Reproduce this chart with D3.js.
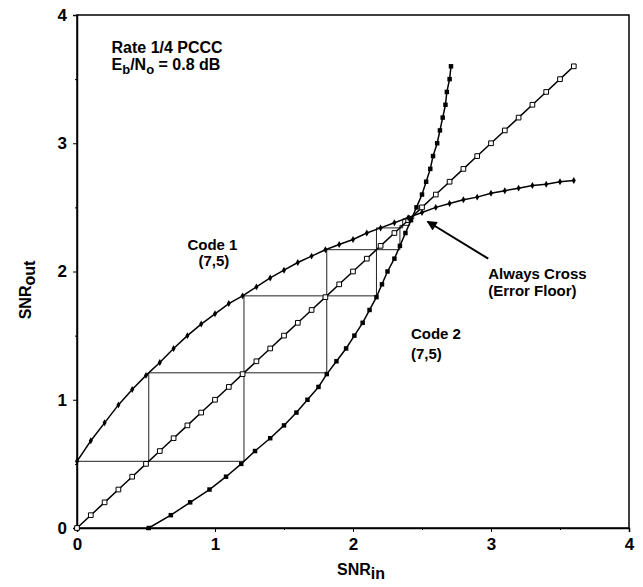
<!DOCTYPE html>
<html>
<head>
<meta charset="utf-8">
<script src="https://cdn.jsdelivr.net/npm/d3@7"></script>
<style>
  body { margin: 0; background: #fff; }
  svg { font-family: "Liberation Sans", Arial, sans-serif; font-weight: bold; }
</style>
</head>
<body>
<svg width="643" height="587"></svg>
<script>
// SNR_in values where markers sit (step of the plotted transfer curves)
const snrIn = [0, 0.1, 0.2, 0.3, 0.4, 0.5, 0.6, 0.7, 0.8, 0.9, 1.0, 1.1, 1.2, 1.3, 1.4, 1.5, 1.6, 1.7, 1.8,
  1.9, 2.0, 2.1, 2.2, 2.3, 2.4, 2.5, 2.6, 2.7, 2.8, 2.9, 3.0, 3.1, 3.2, 3.3, 3.4, 3.5, 3.6]
// diagonal SNR_out = SNR_in (open squares)
const diagOut = [0, 0.1, 0.2, 0.3, 0.4, 0.5, 0.6, 0.7, 0.8, 0.9, 1.0, 1.1, 1.2, 1.3, 1.4, 1.5, 1.6, 1.7, 1.8,
  1.9, 2.0, 2.1, 2.2, 2.3, 2.4, 2.5, 2.6, 2.7, 2.8, 2.9, 3.0, 3.1, 3.2, 3.3, 3.4, 3.5, 3.6]
// Code 1 (7,5)
const code1Out = [0.52, 0.68, 0.82, 0.96, 1.08, 1.19, 1.29, 1.40, 1.50, 1.59, 1.67, 1.75, 1.81, 1.88, 1.95, 2.01, 2.07, 2.12, 2.17,
  2.21, 2.25, 2.30, 2.34, 2.38, 2.42, 2.46, 2.50, 2.53, 2.56, 2.58, 2.61, 2.63, 2.65, 2.67, 2.68, 2.70, 2.71]
// Code 2 (7,5), plotted with axes swapped
const code2In = [0.52, 0.68, 0.82, 0.96, 1.08, 1.19, 1.29, 1.40, 1.50, 1.59, 1.67, 1.75, 1.81, 1.88, 1.95, 2.01, 2.07, 2.12, 2.17,
  2.21, 2.25, 2.30, 2.34, 2.38, 2.42, 2.46, 2.50, 2.53, 2.56, 2.58, 2.61, 2.63, 2.65, 2.67, 2.68, 2.70, 2.71]
const code2Out = [0, 0.1, 0.2, 0.3, 0.4, 0.5, 0.6, 0.7, 0.8, 0.9, 1.0, 1.1, 1.2, 1.3, 1.4, 1.5, 1.6, 1.7, 1.8,
  1.9, 2.0, 2.1, 2.2, 2.3, 2.4, 2.5, 2.6, 2.7, 2.8, 2.9, 3.0, 3.1, 3.2, 3.3, 3.4, 3.5, 3.6]

// decoding trajectories (staircases)
const trajA = [[0, 0.52], [1.21, 0.52], [1.21, 1.81], [2.17, 1.81], [2.17, 2.34], [2.36, 2.34], [2.36, 2.41], [2.44, 2.41], [2.44, 2.45]]
const trajB = [[0.52, 0.52], [0.52, 1.21], [1.81, 1.21], [1.81, 2.17], [2.34, 2.17], [2.34, 2.36], [2.41, 2.36], [2.41, 2.44]]

const ticks = [0, 1, 2, 3, 4]
const minorTicks = [0.5, 1.5, 2.5, 3.5]

const margin = { top: 15, right: 14, bottom: 59, left: 77 }
const width = 643 - margin.left - margin.right
const height = 587 - margin.top - margin.bottom

const svg = d3.select('svg')
const g = svg.append('g').attr('transform', `translate(${margin.left},${margin.top})`)

const x = d3.scaleLinear().domain([0, 4]).range([0, width])
const y = d3.scaleLinear().domain([0, 4]).range([height, 0])

// frame
g.append('rect')
  .attr('width', width).attr('height', height)
  .attr('fill', 'none').attr('stroke', '#000').attr('stroke-width', 1.5)

// axes
g.append('g').attr('transform', `translate(0,${height})`)
  .call(d3.axisBottom(x).tickValues(ticks).tickFormat(d3.format('d')).tickSize(4).tickPadding(6))
g.append('g')
  .call(d3.axisLeft(y).tickValues(ticks).tickFormat(d3.format('d')).tickSize(4).tickPadding(6))
g.append('g').attr('transform', `translate(0,${height})`)
  .call(d3.axisBottom(x).tickValues(minorTicks).tickFormat('').tickSize(2))
  .select('.domain').remove()
g.append('g')
  .call(d3.axisLeft(y).tickValues(minorTicks).tickFormat('').tickSize(2))
  .select('.domain').remove()
svg.selectAll('.domain').attr('stroke-width', 1.5)
svg.selectAll('.tick text').attr('font-size', 17).attr('font-weight', 'bold')
  .attr('font-family', '"Liberation Sans", Arial, sans-serif')

// staircases
const line = d3.line().x(d => x(d[0])).y(d => y(d[1]))
;[trajA, trajB].forEach(t => {
  g.append('path').attr('d', line(t))
    .attr('fill', 'none').attr('stroke', '#222').attr('stroke-width', 1)
})

// curves
const series = [
  { xs: snrIn, ys: diagOut, marker: 'open' },
  { xs: snrIn, ys: code1Out, marker: 'diamond' },
  { xs: code2In, ys: code2Out, marker: 'square' }
]
series.forEach(s => {
  const pts = s.xs.map((v, i) => [v, s.ys[i]])
  g.append('path').attr('d', line(pts))
    .attr('fill', 'none').attr('stroke', '#000').attr('stroke-width', 1.5)
  const m = g.append('g').selectAll('path').data(pts).enter().append('path')
    .attr('transform', d => `translate(${x(d[0])},${y(d[1])})`)
  if (s.marker === 'open') {
    m.attr('d', d3.symbol(d3.symbolSquare, 22)).attr('fill', '#fff').attr('stroke', '#000').attr('stroke-width', 1)
  } else if (s.marker === 'diamond') {
    m.attr('d', d3.symbol(d3.symbolDiamond, 14)).attr('fill', '#000')
  } else {
    m.attr('d', d3.symbol(d3.symbolSquare, 20)).attr('fill', '#000')
  }
})

// annotations
const txt = (xv, yv, str, size) => g.append('text').attr('x', x(xv)).attr('y', y(yv))
  .attr('font-size', size || 15).text(str)

const t1 = g.append('text').attr('x', x(0.25)).attr('y', y(3.70)).attr('font-size', 16)
t1.text('Rate 1/4 PCCC')
const t2 = g.append('text').attr('x', x(0.25)).attr('y', y(3.57)).attr('font-size', 16)
t2.append('tspan').text('E')
t2.append('tspan').attr('baseline-shift', '-4').attr('font-size', 13).text('b')
t2.append('tspan').text('/N')
t2.append('tspan').attr('baseline-shift', '-4').attr('font-size', 13).text('o')
t2.append('tspan').text(' = 0.8 dB')

txt(0.80, 2.17, 'Code 1')
txt(0.88, 2.04, '(7,5)')
txt(2.42, 1.47, 'Code 2')
txt(2.42, 1.32, '(7,5)')
txt(2.98, 1.94, 'Always Cross')
txt(2.98, 1.81, '(Error Floor)')

// arrow
svg.append('defs').append('marker').attr('id', 'ah')
  .attr('viewBox', '0 0 10 10').attr('refX', 9).attr('refY', 5)
  .attr('markerWidth', 14).attr('markerHeight', 10).attr('markerUnits', 'userSpaceOnUse')
  .attr('orient', 'auto')
  .append('path').attr('d', 'M0,0L10,5L0,10Z').attr('fill', '#000')
g.append('line')
  .attr('x1', x(2.98)).attr('y1', y(2.10)).attr('x2', x(2.54)).attr('y2', y(2.39))
  .attr('stroke', '#000').attr('stroke-width', 2).attr('marker-end', 'url(#ah)')

// axis titles
const xt = svg.append('text').attr('x', 337).attr('y', 575).attr('font-size', 16)
xt.append('tspan').text('SNR')
xt.append('tspan').attr('baseline-shift', '-4').text('in')
const yt = svg.append('text').attr('transform', 'translate(31,290) rotate(-90)')
  .attr('text-anchor', 'middle').attr('font-size', 16)
yt.append('tspan').text('SNR')
yt.append('tspan').attr('baseline-shift', '-4').text('out')
</script>
</body>
</html>
